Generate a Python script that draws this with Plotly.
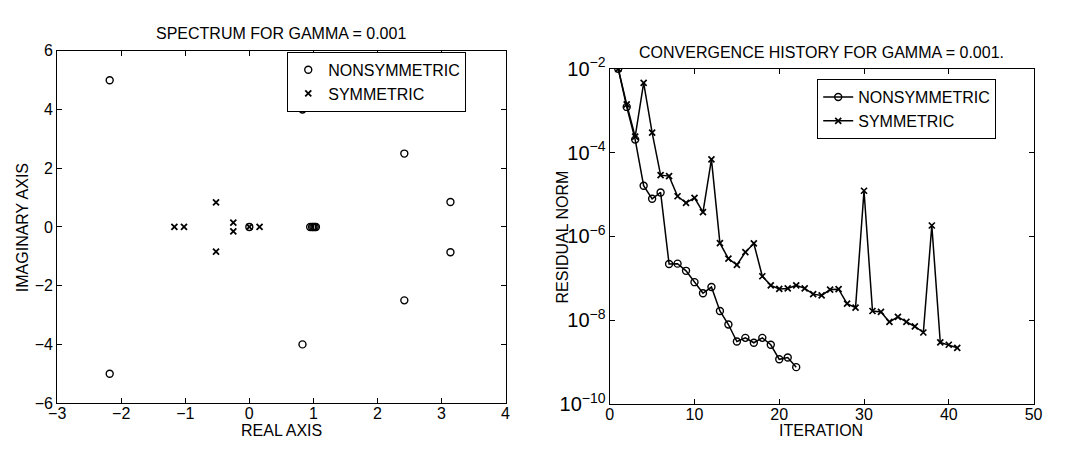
import plotly.graph_objects as go

# ---- left panel: spectrum ----
ns_re = [-2.18, -2.18, 0.83, 0.83, 2.42, 2.42, 3.14, 3.14, 0.0, 0.95, 0.98, 1.0, 1.02, 1.04]
ns_im = [5.0, -5.0, 4.0, -4.0, 2.5, -2.5, 0.85, -0.86, 0.0, 0.0, 0.0, 0.0, 0.0, 0.0]
sym_re = [-1.17, -1.02, -0.52, -0.52, -0.25, -0.25, 0.0, 0.16]
sym_im = [0.0, 0.0, 0.84, -0.84, 0.15, -0.15, 0.0, 0.0]

# ---- right panel: convergence history ----
ns_iter = list(range(1, 23))
ns_res = [1.0e-2, 1.23e-3, 2.04e-4, 1.62e-5, 7.9e-6, 1.12e-5, 2.19e-7, 2.24e-7,
          1.51e-7, 8.1e-8, 4.4e-8, 6.2e-8, 1.66e-8, 7.9e-9, 3.1e-9, 3.8e-9,
          2.9e-9, 3.8e-9, 2.6e-9, 1.17e-9, 1.29e-9, 7.6e-10]
sym_iter = list(range(1, 42))
sym_res = [1.0e-2, 1.41e-3, 2.4e-4, 4.6e-3, 3.0e-4, 2.9e-5, 2.75e-5, 9.1e-6,
           6.3e-6, 8.3e-6, 3.8e-6, 6.9e-5, 6.9e-7, 2.95e-7, 2.1e-7, 4.2e-7,
           6.8e-7, 1.12e-7, 6.8e-8, 5.6e-8, 5.75e-8, 6.8e-8, 5.75e-8, 4.2e-8,
           3.9e-8, 5.4e-8, 5.5e-8, 2.5e-8, 2.0e-8, 1.23e-5, 1.66e-8, 1.58e-8,
           9.1e-9, 1.2e-8, 9.1e-9, 7.1e-9, 5.1e-9, 1.82e-6, 2.95e-9, 2.6e-9, 2.2e-9]

W, H = 1073, 450
FONT = "Liberation Sans, Arial, sans-serif"
FS = 16

fig = go.Figure()

fig.add_trace(go.Scatter(x=ns_re, y=ns_im, mode="markers", name="NONSYMMETRIC",
                         marker=dict(symbol="circle-open", size=7, color="black",
                                     line=dict(width=1.4, color="black")),
                         xaxis="x", yaxis="y", legend="legend"))
fig.add_trace(go.Scatter(x=sym_re, y=sym_im, mode="markers", name="SYMMETRIC",
                         marker=dict(symbol="x-thin", size=6, color="black",
                                     line=dict(width=1.8, color="black")),
                         xaxis="x", yaxis="y", legend="legend"))

fig.add_trace(go.Scatter(x=ns_iter, y=ns_res, mode="lines+markers", name="NONSYMMETRIC",
                         line=dict(color="black", width=1.5),
                         marker=dict(symbol="circle-open", size=7, color="black",
                                     line=dict(width=1.4, color="black")),
                         xaxis="x2", yaxis="y2", legend="legend2"))
fig.add_trace(go.Scatter(x=sym_iter, y=sym_res, mode="lines+markers", name="SYMMETRIC",
                         line=dict(color="black", width=1.5),
                         marker=dict(symbol="x-thin", size=6, color="black",
                                     line=dict(width=1.7, color="black")),
                         xaxis="x2", yaxis="y2", legend="legend2"))

axcommon = dict(showline=True, linecolor="black", linewidth=1, mirror="ticks",
                ticks="inside", ticklen=5, tickcolor="black", showgrid=False,
                zeroline=False, tickfont=dict(family=FONT, size=FS, color="black"))

fig.update_layout(
    width=W, height=H, margin=dict(l=0, r=0, t=0, b=0),
    paper_bgcolor="white", plot_bgcolor="white",
    font=dict(family=FONT, size=FS, color="black"),
    xaxis=dict(domain=[49 / W, 505 / W], range=[-3, 4], dtick=1, tick0=0,
               anchor="y", ticklabelstandoff=-4, **axcommon),
    yaxis=dict(domain=[1 - 412 / H, 1 - 39 / H], range=[-6, 6], dtick=2, tick0=0,
               anchor="x", **axcommon),
    xaxis2=dict(domain=[611 / W, 1042 / W], range=[0, 50], dtick=10, tick0=0,
                anchor="y2", ticklabelstandoff=-4, **axcommon),
    yaxis2=dict(domain=[1 - 413 / H, 1 - 58 / H], type="log", range=[-10, -2],
                dtick=2, tick0=-10, exponentformat="power", anchor="x2", **axcommon),
    legend=dict(x=283 / W, y=1 - 40 / H, xanchor="left", yanchor="top",
                bgcolor="white", bordercolor="black", borderwidth=1,
                font=dict(family=FONT, size=FS, color="black"), tracegroupgap=0),
    legend2=dict(x=822 / W, y=1 - 69 / H, xanchor="left", yanchor="top",
                 bgcolor="white", bordercolor="black", borderwidth=1,
                 font=dict(family=FONT, size=FS, color="black"), tracegroupgap=0),
    showlegend=True,
)

ann = [
    dict(text="SPECTRUM FOR GAMMA = 0.001", x=277 / W, y=1 - 21 / H),
    dict(text="CONVERGENCE HISTORY FOR GAMMA = 0.001.", x=826 / W, y=1 - 41 / H),
    dict(text="REAL AXIS", x=277 / W, y=1 - 441 / H),
    dict(text="ITERATION", x=826 / W, y=1 - 441 / H),
    dict(text="IMAGINARY AXIS", x=14 / W, y=1 - 226 / H, textangle=-90),
    dict(text="RESIDUAL NORM", x=563 / W, y=1 - 236 / H, textangle=-90),
]
for a in ann:
    fig.add_annotation(xref="paper", yref="paper", xanchor="center", yanchor="middle",
                       showarrow=False, font=dict(family=FONT, size=FS, color="black"), **a)

fig.write_html("out.html")
